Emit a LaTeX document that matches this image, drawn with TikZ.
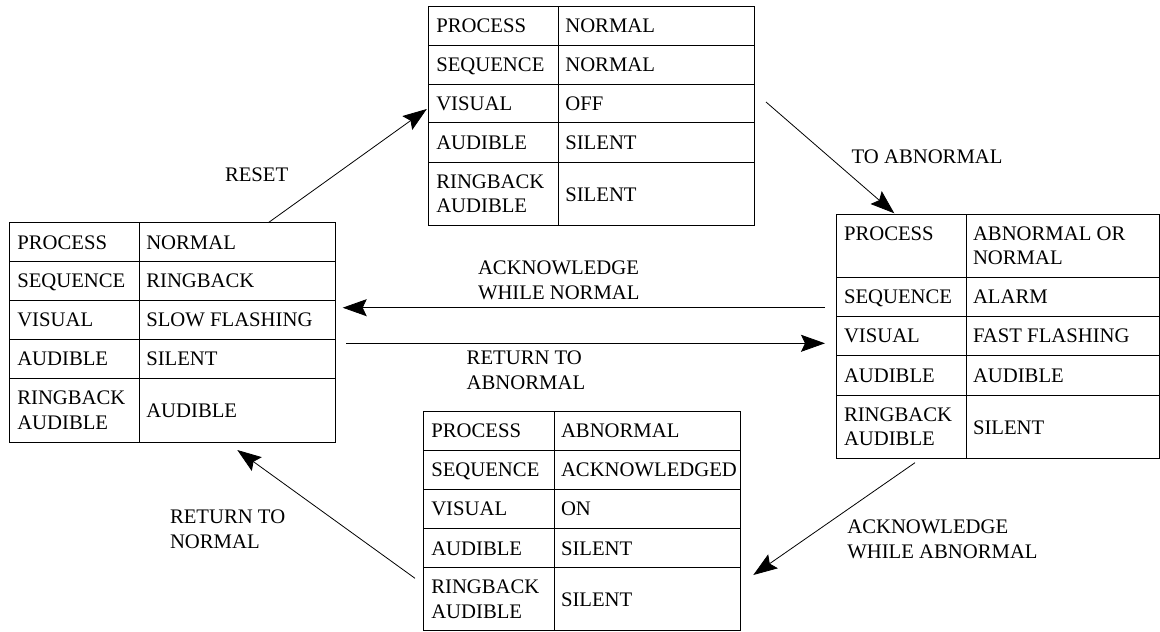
\documentclass[tikz,border=0pt]{standalone}
\usepackage{fontspec}
\setmainfont{Liberation Serif}
\usetikzlibrary{arrows.meta,calc}
\tikzset{
  tbl/.style={draw, line width=0.95pt, inner sep=0pt, outer sep=0pt, anchor=north west},
  tline/.style={line width=0.95pt},
  cell/.style={inner sep=0pt, outer sep=0pt, font=\fontsize{20.7}{24.5}\selectfont, align=left},
  lbl/.style={inner sep=0pt, outer sep=0pt, font=\fontsize{20.7}{25}\selectfont, align=left, anchor=west},
  arr/.style={line width=0.8pt, -{Stealth[length=24pt,width=17pt,inset=4pt]}},
}
% single-line cell: name, x, ytop, ybot, text
\newcommand\cellone[5]{\node[cell,anchor=base west] (#1) at ($(#2,#3)!0.5!(#2,#4)+(0,7)$) {#5};}
% two-line cell
\newcommand\celltwo[5]{\node[cell,anchor=west] (#1) at ($(#2,#3)!0.5!(#2,#4)$) {#5};}
\begin{document}
\begin{tikzpicture}[x=1pt,y=-1pt]
\useasboundingbox (0,0) rectangle (1160,632);

% ---------- top table ----------
\node[tbl, minimum width=326pt, minimum height=218.3pt] (T) at (428.3,6.7) {};
\draw[tline] (558.3,6.7) -- (558.3,225);
\foreach \y in {45,84,122.7,162} \draw[tline] (428.3,\y) -- (754.3,\y);
\cellone{T1a}{436.3}{6.7}{45}{PROCESS}
\cellone{T1b}{565.3}{6.7}{45}{NORMAL}
\cellone{T2a}{436.3}{45}{84}{SEQUENCE}
\cellone{T2b}{565.3}{45}{84}{NORMAL}
\cellone{T3a}{436.3}{84}{122.7}{VISUAL}
\cellone{T3b}{565.3}{84}{122.7}{OFF}
\cellone{T4a}{436.3}{122.7}{162}{AUDIBLE}
\cellone{T4b}{565.3}{122.7}{162}{SILENT}
\celltwo{T5a}{436.3}{162}{225}{RINGBACK\\AUDIBLE}
\cellone{T5b}{565.3}{162}{226}{SILENT}

% ---------- left table ----------
\node[tbl, minimum width=326pt, minimum height=219.3pt] (L) at (9.3,222.7) {};
\draw[tline] (139.3,222.7) -- (139.3,442);
\foreach \y in {261.7,300,339,378.3} \draw[tline] (9.3,\y) -- (335.3,\y);
\cellone{L1a}{17.3}{222.7}{261.7}{PROCESS}
\cellone{L1b}{146.3}{222.7}{261.7}{NORMAL}
\cellone{L2a}{17.3}{261.7}{300}{SEQUENCE}
\cellone{L2b}{146.3}{261.7}{300}{RINGBACK}
\cellone{L3a}{17.3}{300}{339}{VISUAL}
\cellone{L3b}{146.3}{300}{339}{SLOW FLASHING}
\cellone{L4a}{17.3}{339}{378.3}{AUDIBLE}
\cellone{L4b}{146.3}{339}{378.3}{SILENT}
\celltwo{L5a}{17.3}{378.3}{442}{RINGBACK\\AUDIBLE}
\cellone{L5b}{146.3}{378.3}{443}{AUDIBLE}

% ---------- right table ----------
\node[tbl, minimum width=323pt, minimum height=244pt] (R) at (836,214.3) {};
\draw[tline] (966,214.3) -- (966,458.3);
\foreach \y in {277.3,316,355.3,395} \draw[tline] (836,\y) -- (1159,\y);
\node[cell,anchor=base west] (R1a) at (844,240.7) {PROCESS};
\celltwo{R1b}{973}{214.3}{277.3}{ABNORMAL OR\\NORMAL}
\cellone{R2a}{844}{277.3}{316}{SEQUENCE}
\cellone{R2b}{973}{277.3}{316}{ALARM}
\cellone{R3a}{844}{316}{355.3}{VISUAL}
\cellone{R3b}{973}{316}{355.3}{FAST FLASHING}
\cellone{R4a}{844}{355.3}{395}{AUDIBLE}
\cellone{R4b}{973}{355.3}{395}{AUDIBLE}
\celltwo{R5a}{844}{395}{458.3}{RINGBACK\\AUDIBLE}
\cellone{R5b}{973}{395}{459.3}{SILENT}

% ---------- bottom table ----------
\node[tbl, minimum width=317.4pt, minimum height=219pt] (B) at (423.3,411.7) {};
\draw[tline] (554,411.7) -- (554,630.7);
\foreach \y in {450,489.3,528.3,567.7} \draw[tline] (423.3,\y) -- (740.7,\y);
\cellone{B1a}{431.3}{411.7}{450}{PROCESS}
\cellone{B1b}{561}{411.7}{450}{ABNORMAL}
\cellone{B2a}{431.3}{450}{489.3}{SEQUENCE}
\cellone{B2b}{561}{450}{489.3}{ACKNOWLEDGED}
\cellone{B3a}{431.3}{489.3}{528.3}{VISUAL}
\cellone{B3b}{561}{489.3}{528.3}{ON}
\cellone{B4a}{431.3}{528.3}{567.7}{AUDIBLE}
\cellone{B4b}{561}{528.3}{567.7}{SILENT}
\celltwo{B5a}{431.3}{567.7}{630.7}{RINGBACK\\AUDIBLE}
\cellone{B5b}{561}{567.7}{631.7}{SILENT}

% ---------- connectors ----------
\draw[arr] ([xshift=259pt]L.north west) -- ([xshift=-1.5pt,yshift=-102.3pt]T.north west);
\draw[arr] ([xshift=11.7pt,yshift=-95.3pt]T.north east) -- ([xshift=58.3pt,yshift=1pt]R.north west);
\draw[arr] ([xshift=-11pt,yshift=-93.4pt]R.north west) -- ([xshift=7.4pt,yshift=-85pt]L.north east);
\draw[arr] ([xshift=10.7pt,yshift=-120.6pt]L.north east) -- ([xshift=-11pt,yshift=-129pt]R.north west);
\draw[arr] ([xshift=-8.3pt,yshift=-166.6pt]B.north west) -- ([xshift=228pt,yshift=-8pt]L.south west);
\draw[arr] ([xshift=79pt,yshift=-4.4pt]R.south west) -- ([xshift=12.6pt,yshift=-163.3pt]B.north east);

% ---------- labels ----------
\node[lbl,anchor=base west] (lreset) at (225,181.7) {RESET};
\node[lbl,anchor=base west] (ltoab) at (851.7,163.3) {TO ABNORMAL};
\node[lbl] (lackn) at (478,280.5) {ACKNOWLEDGE\\WHILE NORMAL};
\node[lbl] (lretab) at (466.7,370.3) {RETURN TO\\ABNORMAL};
\node[lbl] (lretn) at (170,529.6) {RETURN TO\\NORMAL};
\node[lbl] (lacka) at (847.3,539.4) {ACKNOWLEDGE\\WHILE ABNORMAL};
\end{tikzpicture}
\end{document}
